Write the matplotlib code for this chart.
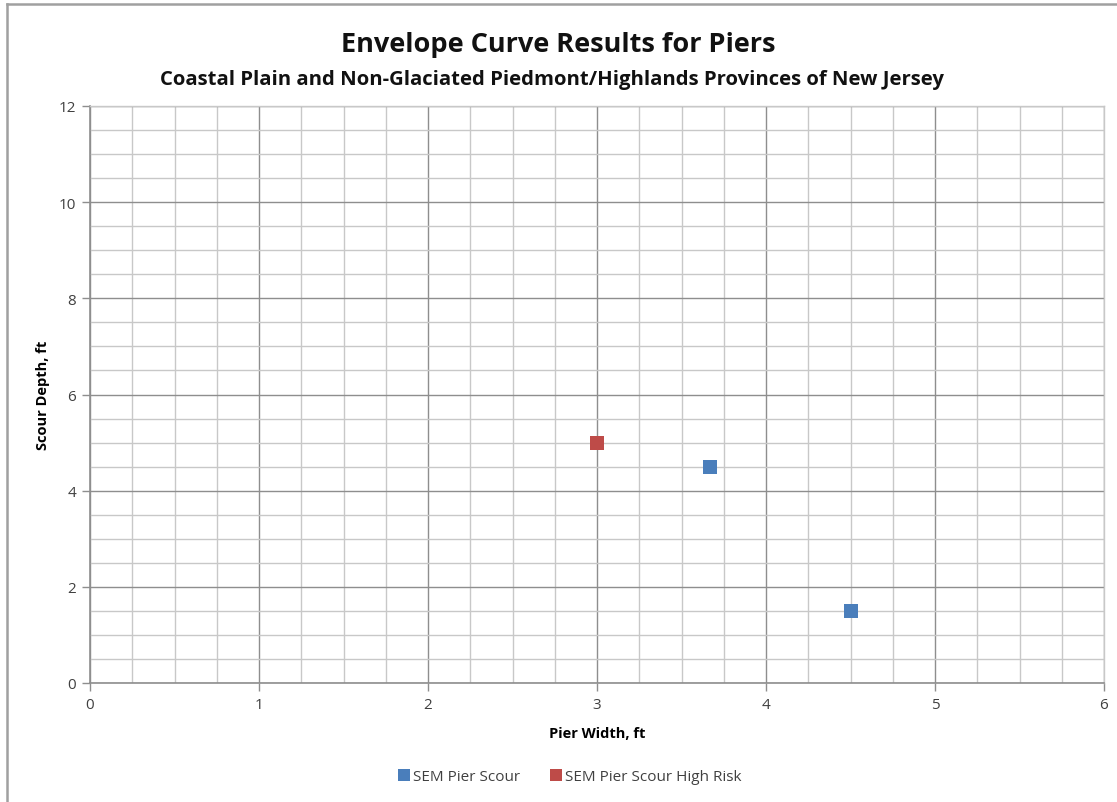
import matplotlib
matplotlib.use("Agg")
import matplotlib.pyplot as plt
from matplotlib.lines import Line2D
from matplotlib.ticker import MultipleLocator

# Data
scour_width = [3.67, 4.5]
scour_depth = [4.5, 1.5]
high_risk_width = [3.0]
high_risk_depth = [5.0]

series_labels = ["SEM Pier Scour", "SEM Pier Scour High Risk"]
title = "Envelope Curve Results for Piers"
subtitle = "Coastal Plain and Non-Glaciated Piedmont/Highlands Provinces of New Jersey"
x_label = "Pier Width, ft"
y_label = "Scour Depth, ft"

BLUE = "#4a7ebb"
RED = "#be4b48"
FONT = ["Open Sans", "DejaVu Sans"]

plt.rcParams["font.family"] = FONT

fig = plt.figure(figsize=(11.17, 8.03), dpi=100)
ax = fig.add_axes([90 / 1117, 1 - 684 / 803, (1104 - 90) / 1117, (684 - 107) / 803])

ax.set_xlim(0, 6)
ax.set_ylim(0, 12)
ax.xaxis.set_major_locator(MultipleLocator(1))
ax.xaxis.set_minor_locator(MultipleLocator(0.25))
ax.yaxis.set_major_locator(MultipleLocator(2))
ax.yaxis.set_minor_locator(MultipleLocator(0.5))

ax.grid(which="minor", color="#c8c8c8", linewidth=1.0)
ax.grid(which="major", color="#8e8e8e", linewidth=1.0)
ax.set_axisbelow(True)

for side in ["top", "right"]:
    ax.spines[side].set_color("#c8c8c8")
    ax.spines[side].set_linewidth(1.0)
for side in ["left", "bottom"]:
    ax.spines[side].set_color("#8e8e8e")
    ax.spines[side].set_linewidth(1.2)

ax.tick_params(which="major", length=6, width=1, color="#8e8e8e",
               labelsize=11, labelcolor="#404040", pad=4)
ax.tick_params(which="minor", length=0)

ax.scatter(scour_width, scour_depth, marker="s", s=110, color=BLUE,
           zorder=3, label=series_labels[0], linewidths=0)
ax.scatter(high_risk_width, high_risk_depth, marker="s", s=110, color=RED,
           zorder=3, label=series_labels[1], linewidths=0)

ax.set_xlabel(x_label, fontsize=10.5, fontweight="bold", labelpad=10)
ax.set_ylabel(y_label, fontsize=10.5, fontweight="bold", labelpad=6)

fig.text(0.5, 1 - 45 / 803, title, ha="center", va="center",
         fontsize=19.5, fontweight="bold", color="#111111")
fig.text(0.494, 1 - 80 / 803, subtitle, ha="center", va="center",
         fontsize=14.6, fontweight="bold", color="#111111")

handles = [
    Line2D([], [], marker="s", linestyle="none", markersize=9,
           markerfacecolor=BLUE, markeredgewidth=0),
    Line2D([], [], marker="s", linestyle="none", markersize=9,
           markerfacecolor=RED, markeredgewidth=0),
]
fig.legend(handles, series_labels, loc="center", ncol=2,
           bbox_to_anchor=(0.51, 1 - 778 / 803), frameon=False,
           fontsize=11, handlelength=0.8, handletextpad=0.2,
           columnspacing=1.9, labelcolor="#404040")

# Outer chart frame (left and top edges)
fig.add_artist(Line2D([7 / 1117, 7 / 1117], [0, 1 - 5 / 803],
                      transform=fig.transFigure, color="#a0a0a0", linewidth=1.8))
fig.add_artist(Line2D([7 / 1117, 1], [1 - 5 / 803, 1 - 5 / 803],
                      transform=fig.transFigure, color="#a0a0a0", linewidth=1.8))

fig.savefig("out.png", dpi=100, facecolor="white")
